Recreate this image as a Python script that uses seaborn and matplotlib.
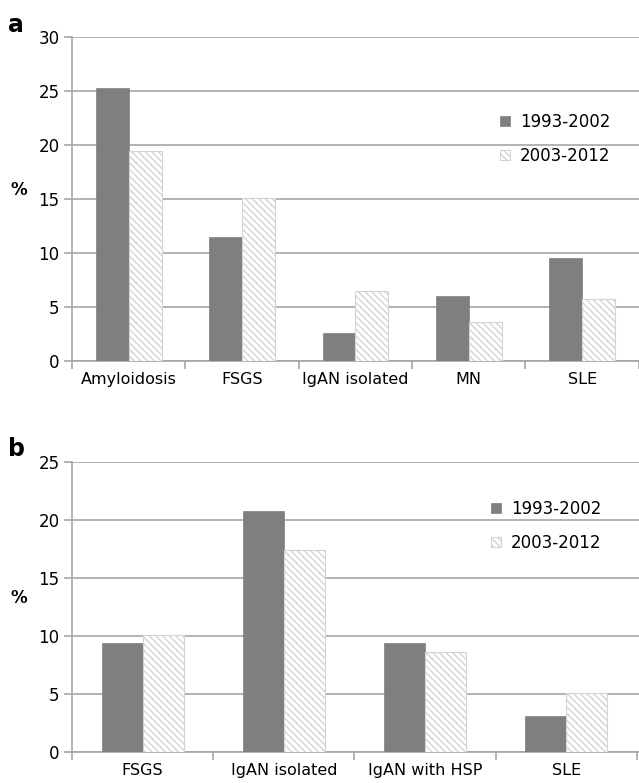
import numpy as np
import pandas as pd
import matplotlib
matplotlib.use('Agg')
import matplotlib.pyplot as plt
import seaborn as sns

# Data
periods = ['1993-2002', '2003-2012']

cats_a = ['Amyloidosis', 'FSGS', 'IgAN isolated', 'MN', 'SLE']
a_1993 = [25.3, 11.45, 2.6, 6.05, 9.5]
a_2003 = [19.4, 15.05, 6.5, 3.6, 5.75]

cats_b = ['FSGS', 'IgAN isolated', 'IgAN with HSP', 'SLE']
b_1993 = [9.35, 20.75, 9.35, 3.1]
b_2003 = [10.05, 17.4, 8.6, 5.1]

sns.set_style('white')
plt.rcParams['font.family'] = ['DejaVu Sans']
plt.rcParams['text.color'] = 'black'
plt.rcParams['axes.labelcolor'] = 'black'
plt.rcParams['hatch.linewidth'] = 1.0

dark = '#7f7f7f'
light = '#d4d4d4'
grid = '#a6a6a6'


def long_df(cats, v1, v2):
    return pd.DataFrame({
        'cat': cats * 2,
        'period': [periods[0]] * len(cats) + [periods[1]] * len(cats),
        'value': list(v1) + list(v2),
    })


def draw(ax, cats, v1, v2, ymax, leg_xy):
    df = long_df(cats, v1, v2)
    sns.barplot(data=df, x='cat', y='value', hue='period', hue_order=periods,
                palette=[dark, 'white'], width=0.58, ax=ax, saturation=1,
                zorder=3)
    n = len(cats)
    for i, p in enumerate(ax.patches[:2 * n]):
        if i < n:
            p.set_edgecolor(dark)
            p.set_linewidth(0.5)
        else:
            p.set_facecolor('white')
            p.set_edgecolor(light)
            p.set_hatch('\\\\\\\\\\')
            p.set_linewidth(0.8)
    ax.set_ylim(0, ymax)
    ax.set_xlim(-0.5, n - 0.5 + 0.05)
    ax.set_yticks(np.arange(0, ymax + 1, 5))
    ax.yaxis.grid(True, color=grid, linewidth=1.2, zorder=0)
    ax.set_axisbelow(True)
    ax.set_xticks(np.arange(n + 1) - 0.5)
    ax.set_xticklabels([])
    ax.set_xticks(np.arange(n), minor=True)
    ax.set_xticklabels(cats, minor=True, fontsize=11.5)
    ax.tick_params(axis='x', which='major', length=6, width=1.2, color=grid,
                   direction='out', bottom=True)
    ax.tick_params(axis='x', which='minor', length=0, pad=8, labelcolor='black')
    ax.tick_params(axis='y', length=6, width=1.2, color=grid, direction='out',
                   left=True, labelsize=12, pad=3, labelcolor='black')
    for s in ['top', 'right']:
        ax.spines[s].set_visible(False)
    for s in ['left', 'bottom']:
        ax.spines[s].set_color(grid)
        ax.spines[s].set_linewidth(1.2)
    ax.set_xlabel('')
    ax.set_ylabel('%', rotation=0, fontsize=12, fontweight='bold', labelpad=14)
    ax.get_legend().remove()
    handles = ax.patches[0], ax.patches[n]
    ax.legend(handles, periods, frameon=False, fontsize=12,
              handlelength=0.6, handleheight=0.6, handletextpad=0.6,
              labelspacing=0.95, loc='upper left',
              bbox_to_anchor=leg_xy, bbox_transform=ax.figure.transFigure)
    return ax


fig = plt.figure(figsize=(6.39, 7.83), dpi=100)
ax_a = fig.add_axes([72 / 639, 1 - 361 / 783, (644.5 - 72) / 639, 324 / 783])
ax_b = fig.add_axes([72 / 639, 1 - 751.7 / 783, (644 - 72) / 639, 290 / 783])

draw(ax_a, cats_a, a_1993, a_2003, 30, (485 / 639, 1 - 98 / 783))
draw(ax_b, cats_b, b_1993, b_2003, 25, (476 / 639, 1 - 485 / 783))

fig.text(8 / 639, 1 - 32 / 783, 'a', fontsize=17, fontweight='bold')
fig.text(8 / 639, 1 - 456 / 783, 'b', fontsize=17, fontweight='bold')

fig.savefig('out.png', dpi=100)
